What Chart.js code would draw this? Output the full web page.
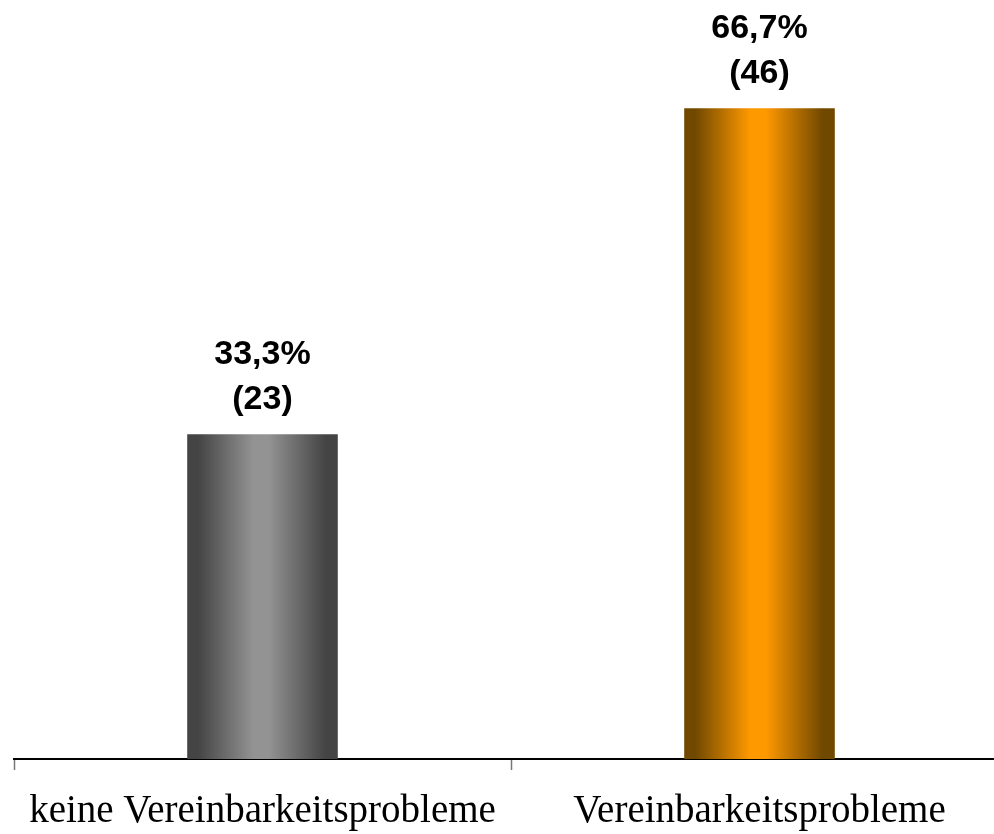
<!DOCTYPE html>
<html>
<head>
<meta charset="utf-8">
<script src="https://cdn.jsdelivr.net/npm/chart.js@4"></script>
<style>
  html, body { margin: 0; padding: 0; background: #ffffff; overflow: hidden; }
  #wrap { width: 1020px; height: 834px; position: relative; }
</style>
</head>
<body>
<div id="wrap"><canvas id="c"></canvas></div>
<script>
const categories = ['keine Vereinbarkeitsprobleme', 'Vereinbarkeitsprobleme'];
const percentValues = [33.3, 66.7];
const countValues = [23, 46];

const BAR_PCT = 0.303;
const barColors = [
  { edge: '#444444', mid: '#939393' },
  { edge: '#704800', mid: '#ff9900' }
];

function barGradient(context) {
  const chart = context.chart;
  const i = context.dataIndex;
  const c = barColors[i % barColors.length];
  const xs = chart.scales && chart.scales.x;
  if (!xs || !xs.width) return c.mid;
  const cx = xs.getPixelForValue(i);
  const half = xs.width / categories.length * BAR_PCT / 2;
  const g = chart.ctx.createLinearGradient(cx - half, 0, cx + half, 0);
  g.addColorStop(0, c.edge);
  g.addColorStop(0.07, c.edge);
  g.addColorStop(0.44, c.mid);
  g.addColorStop(0.54, c.mid);
  g.addColorStop(0.92, c.edge);
  g.addColorStop(1, c.edge);
  return g;
}

const valueLabels = {
  id: 'valueLabels',
  afterDatasetsDraw(chart) {
    const ctx = chart.ctx;
    const meta = chart.getDatasetMeta(0);
    ctx.save();
    ctx.fillStyle = '#000000';
    ctx.font = 'bold 34px "Liberation Sans", Arial, sans-serif';
    ctx.textAlign = 'center';
    ctx.textBaseline = 'alphabetic';
    meta.data.forEach((el, i) => {
      const p = percentValues[i].toFixed(1).replace('.', ',') + '%';
      const n = '(' + countValues[i] + ')';
      ctx.fillText(p, el.x, el.y - 70);
      ctx.fillText(n, el.x, el.y - 25);
    });
    ctx.restore();
  }
};

new Chart(document.getElementById('c'), {
  type: 'bar',
  data: {
    labels: categories,
    datasets: [{
      data: percentValues,
      backgroundColor: barGradient,
      borderWidth: 0,
      categoryPercentage: 1,
      barPercentage: BAR_PCT
    }]
  },
  options: {
    responsive: true,
    maintainAspectRatio: false,
    animation: false,
    layout: { padding: { left: 14, right: 12, top: 0, bottom: 0 } },
    plugins: { legend: { display: false }, tooltip: { enabled: false } },
    scales: {
      y: { display: false, min: 0, max: 77.8 },
      x: {
        afterFit(scale) { scale.height = 75; },
        border: { display: true, color: '#000000', width: 2 },
        grid: {
          offset: true,
          drawOnChartArea: false,
          drawTicks: true,
          tickLength: 11,
          tickWidth: 1.5,
          tickColor: '#777777'
        },
        ticks: {
          color: '#000000',
          padding: 18,
          maxRotation: 0,
          autoSkip: false,
          font: { family: '"Liberation Serif", "Times New Roman", serif', size: 39 }
        }
      }
    }
  },
  plugins: [valueLabels]
});
</script>
</body>
</html>
